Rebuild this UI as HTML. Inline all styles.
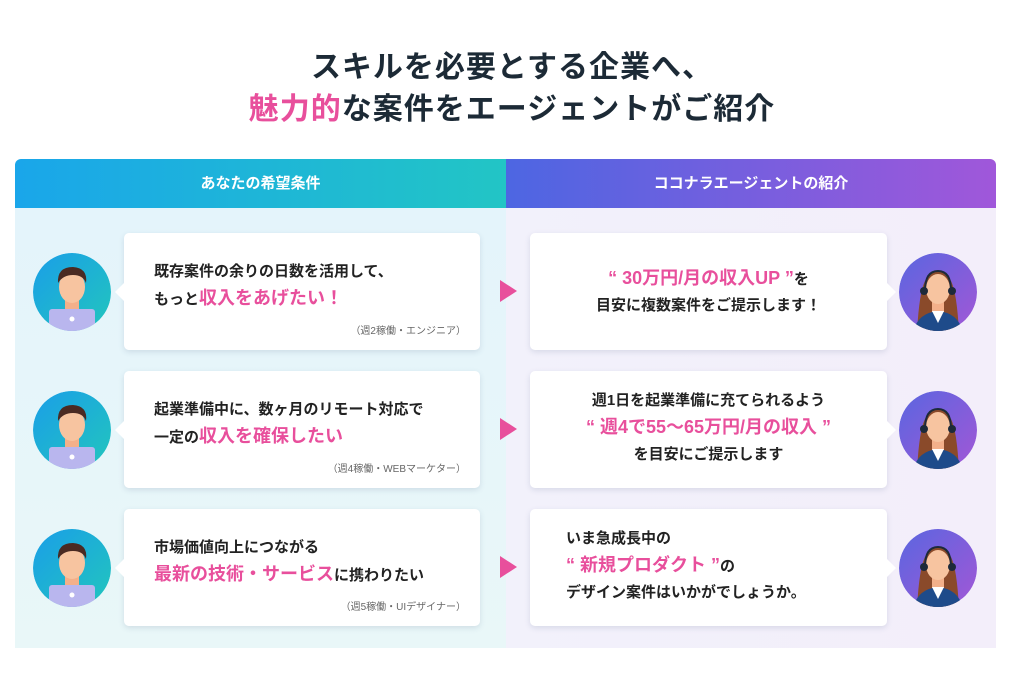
<!DOCTYPE html>
<html><head><meta charset="utf-8"><style>
*{margin:0;padding:0;box-sizing:border-box}
body{width:1024px;height:680px;background:#fff;position:relative;overflow:hidden;font-family:"Liberation Sans","Noto Sans CJK JP",sans-serif;color:#222}
.t{position:absolute;left:0;width:1024px;text-align:center;font-size:30px;font-weight:bold;color:#1c2a36;letter-spacing:1px}
.p{color:#e84f9c}
.hl{position:absolute;left:15px;top:159px;width:491px;height:49px;background:linear-gradient(90deg,#1aa6ea,#22c5c5);border-radius:6px 0 0 0;color:#fff;font-weight:bold;font-size:15px;text-align:center;line-height:49px}
.hr{position:absolute;left:506px;top:159px;width:490px;height:49px;background:linear-gradient(90deg,#4d66e2,#a057da);border-radius:0 6px 0 0;color:#fff;font-weight:bold;font-size:15px;text-align:center;line-height:49px}
.bl{position:absolute;left:15px;top:208px;width:491px;height:440px;background:linear-gradient(180deg,#e4f4fb,#e9f7f8)}
.br{position:absolute;left:506px;top:208px;width:490px;height:440px;background:linear-gradient(90deg,#f2f1fb,#f3eefa)}
.c{position:absolute;background:#fff;border-radius:5px;box-shadow:0 2px 6px rgba(60,80,120,.15);font-size:15px;font-weight:bold;line-height:26px}
.c:before{content:"";position:absolute;top:50%;margin-top:-9px;border:9px solid transparent}
.cl{left:124px;width:356px;height:117px;padding:26px 0 0 30px}
.cl:before{left:-18px;border-right-color:#fff}
.cr{left:530px;width:357px;height:117px;text-align:center}
.cr:before{right:-18px;border-left-color:#fff}
.s{position:absolute;right:14px;bottom:12px;font-size:10px;font-weight:normal;color:#666;line-height:12px}
.big{font-size:18px;color:#e84f9c}
.ar{position:absolute;left:500px;width:0;height:0;border-left:17px solid #e84f9c;border-top:11px solid transparent;border-bottom:11px solid transparent}
.av{position:absolute;width:78px;height:78px;border-radius:50%;overflow:hidden}
</style></head><body>
<div class="t" style="top:42px">スキルを必要とする企業へ、</div>
<div class="t" style="top:84px"><span class="p">魅力的</span>な案件をエージェントがご紹介</div>
<div class="hl">あなたの希望条件</div>
<div class="hr">ココナラエージェントの紹介</div>
<div class="bl"></div><div class="br"></div>

<div class="c cl" style="top:233px">既存案件の余りの日数を活用して、<br>もっと<span class="big">収入をあげたい！</span><div class="s">（週2稼働・エンジニア）</div></div>
<div class="c cl" style="top:371px">起業準備中に、数ヶ月のリモート対応で<br>一定の<span class="big">収入を確保したい</span><div class="s">（週4稼働・WEBマーケター）</div></div>
<div class="c cl" style="top:509px">市場価値向上につながる<br><span class="big">最新の技術・サービス</span>に携わりたい<div class="s">（週5稼働・UIデザイナー）</div></div>

<div class="c cr" style="top:233px;padding-top:32px"><span class="big">“ 30万円/月の収入UP ”</span>を<br>目安に複数案件をご提示します！</div>
<div class="c cr" style="top:371px;padding-top:17px">週1日を起業準備に充てられるよう<br><span class="big">“ 週4で55〜65万円/月の収入 ”</span><br>を目安にご提示します</div>
<div class="c cr" style="top:509px;padding-top:17px;text-align:left;padding-left:36px">いま急成長中の<br><span class="big">“ 新規プロダクト ”</span>の<br>デザイン案件はいかがでしょうか。</div>

<div class="ar" style="top:280px"></div>
<div class="ar" style="top:418px"></div>
<div class="ar" style="top:556px"></div>

<svg width="0" height="0" style="position:absolute"><defs>
<linearGradient id="gb" x1="0" y1="0" x2="1" y2="1"><stop offset="0" stop-color="#1a9ee8"/><stop offset="1" stop-color="#22c6bd"/></linearGradient>
<linearGradient id="gp" x1="0" y1="0" x2="1" y2="1"><stop offset="0" stop-color="#5a66e0"/><stop offset="1" stop-color="#a257d6"/></linearGradient>
<g id="m"><circle cx="39" cy="39" r="39" fill="url(#gb)"/><rect x="32" y="46" width="14" height="12" fill="#f3b08a"/><ellipse cx="39" cy="34" rx="13" ry="16" fill="#f7c4a0"/><path d="M25 30 Q24 14 40 14 Q55 15 53 30 Q50 22 40 22 Q30 22 25 30Z" fill="#4a2a22"/><rect x="16" y="56" width="46" height="30" rx="3" fill="#b9b6ee"/><circle cx="39" cy="66" r="2.5" fill="#fff"/></g>
<g id="f"><circle cx="39" cy="39" r="39" fill="url(#gp)"/><path d="M18 80 Q20 40 26 28 Q38 8 52 28 Q58 40 60 80Z" fill="#8a4a2a"/><rect x="33" y="48" width="12" height="12" fill="#f3b08a"/><ellipse cx="39" cy="36" rx="12" ry="15" fill="#f7c4a0"/><path d="M14 80 Q18 60 39 58 Q60 60 64 80Z" fill="#1e4b8a"/><path d="M33 58 L39 70 L45 58Z" fill="#fff"/><circle cx="25" cy="38" r="4" fill="#1d2a3a"/><circle cx="53" cy="38" r="4" fill="#1d2a3a"/><path d="M26 38 Q26 18 39 18 Q52 18 52 38" stroke="#1d2a3a" stroke-width="2" fill="none"/></g>
</defs></svg>
<svg class="av" style="left:33px;top:253px" viewBox="0 0 78 78"><use href="#m"/></svg>
<svg class="av" style="left:33px;top:391px" viewBox="0 0 78 78"><use href="#m"/></svg>
<svg class="av" style="left:33px;top:529px" viewBox="0 0 78 78"><use href="#m"/></svg>
<svg class="av" style="left:899px;top:253px" viewBox="0 0 78 78"><use href="#f"/></svg>
<svg class="av" style="left:899px;top:391px" viewBox="0 0 78 78"><use href="#f"/></svg>
<svg class="av" style="left:899px;top:529px" viewBox="0 0 78 78"><use href="#f"/></svg>
</body></html>
